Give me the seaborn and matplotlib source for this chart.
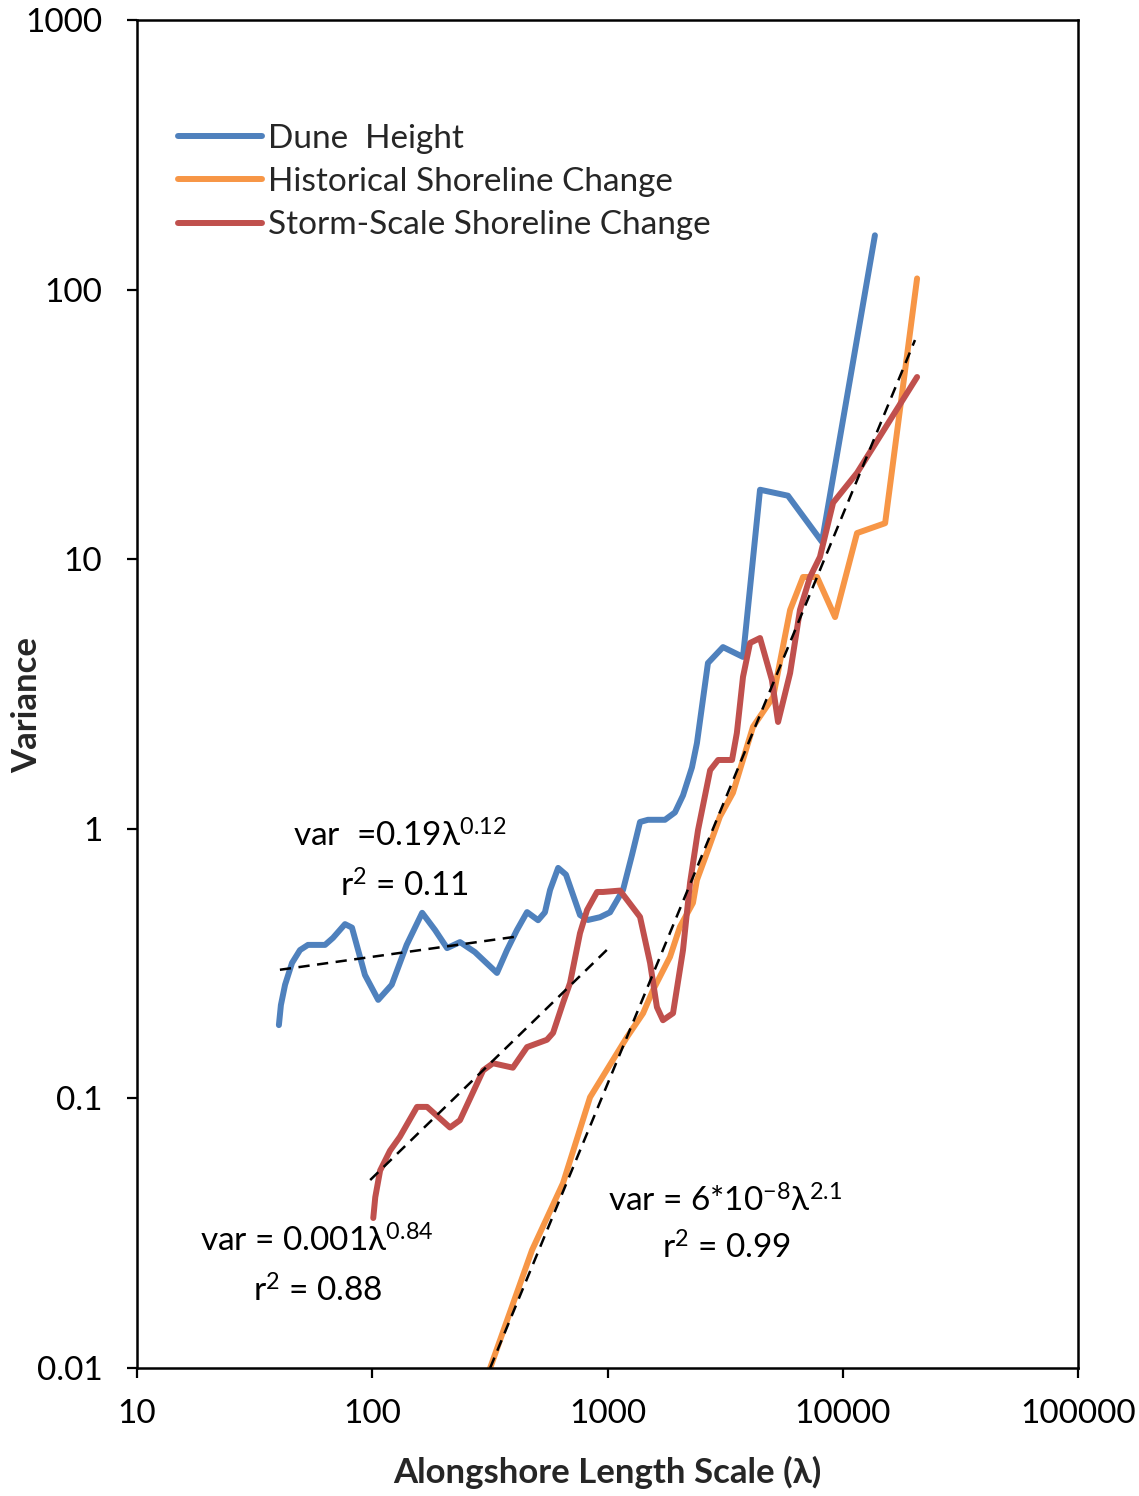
import matplotlib
matplotlib.use("Agg")
import matplotlib.pyplot as plt
import seaborn as sns
import pandas as pd
from matplotlib.lines import Line2D

# ---------------- data ----------------
dune_x = [40.1, 40.9, 42.6, 45.6, 49.3, 53.3, 63.0, 68.1, 76.6, 82.0, 93.1, 106, 121, 140, 163,
          185, 208, 236, 273, 339, 374, 412, 455, 507, 542, 570, 617, 666, 764, 826, 929, 1025,
          1164, 1271, 1375, 1486, 1755, 1935, 2094, 2286, 2400, 2673, 3097, 3767, 4450, 5851,
          8157, 13700]
dune_y = [0.187, 0.222, 0.264, 0.318, 0.355, 0.371, 0.371, 0.394, 0.443, 0.43, 0.287, 0.232,
          0.264, 0.371, 0.488, 0.421, 0.361, 0.38, 0.349, 0.292, 0.355, 0.421, 0.491, 0.458,
          0.49, 0.593, 0.716, 0.676, 0.479, 0.459, 0.47, 0.49, 0.593, 0.80, 1.06, 1.08, 1.08,
          1.15, 1.33, 1.69, 2.08, 4.12, 4.72, 4.34, 18.1, 17.2, 11.6, 159]

hist_x = [317, 478, 647, 843, 1211, 1417, 1561, 1844, 2032, 2308, 2400, 2673, 3006, 3414,
          4154, 5058, 5973, 6780, 7776, 9275, 11500, 15140, 20700]
hist_y = [0.0100, 0.0274, 0.0485, 0.101, 0.169, 0.207, 0.252, 0.335, 0.433, 0.531, 0.646,
          0.834, 1.11, 1.36, 2.39, 3.08, 6.48, 8.59, 8.59, 6.1, 12.5, 13.6, 110]

storm_x = [101, 103, 108, 119, 131, 155, 171, 214, 236, 296, 326, 396, 455, 553, 587, 647,
           693, 764, 819, 903, 957, 1130, 1375, 1517, 1622, 1721, 1899, 2094, 2243, 2426,
           2731, 2953, 3383, 3548, 3767, 4036, 4450, 5000, 5309, 5973, 6580, 7260, 8000,
           9100, 11500, 20700]
storm_y = [0.036, 0.043, 0.054, 0.064, 0.072, 0.093, 0.093, 0.078, 0.083, 0.127, 0.135, 0.13,
           0.155, 0.165, 0.175, 0.226, 0.268, 0.41, 0.50, 0.583, 0.583, 0.59, 0.471, 0.318,
           0.218, 0.195, 0.207, 0.355, 0.63, 0.99, 1.65, 1.80, 1.80, 2.27, 3.66, 4.89, 5.1,
           3.56, 2.49, 3.78, 6.49, 8.59, 10.2, 16.2, 20.9, 47.4]

# power-law fit lines (end points)
fit_dune_x = [40.5, 425]
fit_dune_y = [0.300, 0.400]
fit_storm_x = [98, 1045]
fit_storm_y = [0.0498, 0.371]
fit_hist_x = [317, 20280]
fit_hist_y = [0.0100, 65]

series_names = ["Dune  Height", "Historical Shoreline Change", "Storm-Scale Shoreline Change"]
colors = ["#4F81BD", "#F79646", "#C0504D"]

x_ticks = [10, 100, 1000, 10000, 100000]
x_tick_labels = ["10", "100", "1000", "10000", "100000"]
y_ticks = [0.01, 0.1, 1, 10, 100, 1000]
y_tick_labels = ["0.01", "0.1", "1", "10", "100", "1000"]

# ---------------- style ----------------
sns.set_style("white")
plt.rcParams["font.family"] = ["Lato", "DejaVu Sans"]
plt.rcParams["mathtext.fontset"] = "custom"
plt.rcParams["mathtext.rm"] = "Lato"
plt.rcParams["mathtext.it"] = "Lato:italic"
plt.rcParams["mathtext.bf"] = "Lato:bold"

W, H = 1139, 1496
fig = plt.figure(figsize=(W / 100, H / 100), dpi=100)
ax = fig.add_axes([137 / W, 1 - 1368 / H, (1078 - 137) / W, (1368 - 20) / H])

frames = []
for name, xs, ys in [(series_names[0], dune_x, dune_y),
                     (series_names[1], hist_x, hist_y),
                     (series_names[2], storm_x, storm_y)]:
    frames.append(pd.DataFrame({"x": xs, "y": ys, "series": name}))
df = pd.concat(frames, ignore_index=True)

LW = 4.3
sns.lineplot(data=df, x="x", y="y", hue="series", hue_order=series_names,
             palette=colors, estimator=None, sort=False, linewidth=LW, ax=ax,
             solid_capstyle="round", solid_joinstyle="round", legend=False)

for fx, fy in [(fit_dune_x, fit_dune_y), (fit_storm_x, fit_storm_y), (fit_hist_x, fit_hist_y)]:
    sns.lineplot(x=fx, y=fy, color="black", linewidth=1.8, ax=ax,
                 legend=False, estimator=None, linestyle=(0, (4.5, 3)))

for line in ax.get_lines()[:3]:
    line.set_linewidth(LW)

ax.set_xscale("log")
ax.set_yscale("log")
ax.set_xlim(10, 100000)
ax.set_ylim(0.01, 1000)
ax.set_xticks(x_ticks)
ax.set_xticklabels(x_tick_labels)
ax.set_yticks(y_ticks)
ax.set_yticklabels(y_tick_labels)
ax.minorticks_off()
ax.tick_params(axis="both", which="major", direction="out", length=7, width=1.6,
               color="black", labelsize=24, labelcolor="black",
               bottom=True, left=True)
ax.tick_params(axis="x", pad=15)
ax.tick_params(axis="y", pad=18)
for s in ax.spines.values():
    s.set_visible(True)
    s.set_color("black")
    s.set_linewidth(1.8)

ax.set_xlabel("Alongshore Length Scale (λ)", fontsize=25, fontweight="bold")
ax.xaxis.set_label_coords(0.5, -(1472 - 1368) / 1348)
ax.xaxis.label.set_va("center")
ax.set_ylabel("Variance", fontsize=25, fontweight="bold")
ax.yaxis.set_label_coords(-(137 - 27) / 941, 0.5 - (705 - 694) / 1348)
ax.yaxis.label.set_va("center")

handles = [Line2D([], [], color=c, linewidth=LW) for c in colors]
leg = ax.legend(handles, series_names, loc="upper left", bbox_to_anchor=(0.044, 0.923),
                frameon=False, fontsize=24, handlelength=2.5, handletextpad=0.2,
                labelspacing=0.4, borderpad=0, borderaxespad=0)

def ftxt(px, py, s):
    fig.text(px / W, 1 - py / H, s, fontsize=24, ha="left", va="center", color="black")

ftxt(293, 836, r"var  =0.19λ$^{0.12}$")
ftxt(340, 886, r"r$^{2}$ = 0.11")
ftxt(200, 1241, r"var = 0.001λ$^{0.84}$")
ftxt(253, 1291, r"r$^{2}$ = 0.88")
ftxt(608, 1201, r"var = 6*10$^{-8}$λ$^{2.1}$")
ftxt(662, 1248, r"r$^{2}$ = 0.99")

fig.savefig("out.png", dpi=100)
